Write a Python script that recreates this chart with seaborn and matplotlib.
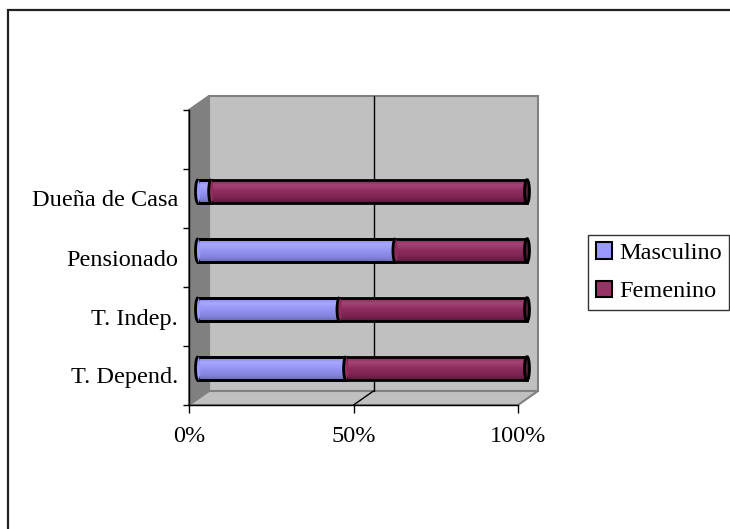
import numpy as np
import matplotlib
matplotlib.use("Agg")
import matplotlib.pyplot as plt
import matplotlib.transforms as mtrans
from matplotlib.patches import Polygon, Ellipse, Arc, Patch, Rectangle
from matplotlib.colors import to_rgb
import seaborn as sns

# Datos (porcentajes por categoria)
categorias = ["Dueña de Casa", "Pensionado", "T. Indep.", "T. Depend."]
masculino = [4, 60, 43, 45]
femenino = [96, 40, 57, 55]
ticks_x = [0, 50, 100]
ticks_x_labels = ["0%", "50%", "100%"]

col_masc = "#9999FF"
col_fem = "#993366"
col_tapa = "#4d1a33"

sns.set_theme(style="white")
plt.rcParams["font.family"] = ["Liberation Serif", "DejaVu Serif"]
plt.rcParams["text.color"] = "black"
plt.rcParams["xtick.labelcolor"] = "black"
plt.rcParams["ytick.labelcolor"] = "black"
fs = 17.5


def gradiente(stops, n=40):
    pos = [s[0] for s in stops]
    rgb = np.array([to_rgb(s[1]) for s in stops])
    y = np.linspace(0, 1, n)
    cols = np.stack([np.interp(y, pos, rgb[:, k]) for k in range(3)], axis=1)
    return cols[:, None, :]


grad_masc = gradiente([(0, "#8080D8"), (0.25, "#A8A8FF"), (0.5, "#9696F4"),
                       (0.8, "#8484DC"), (1, "#6A6AB8")])
grad_fem = gradiente([(0, "#802650"), (0.25, "#A44474"), (0.5, "#8E2C5E"),
                      (0.8, "#7A2450"), (1, "#5A1A3C")])

fig = plt.figure(figsize=(7.3, 5.29), dpi=100)
ax = fig.add_axes([189 / 730, 124 / 529, 329 / 730, 295 / 529])
ax.set_facecolor("none")

# barras apiladas: total (femenino) y encima masculino
total = [m + f for m, f in zip(masculino, femenino)]
sns.barplot(x=total, y=categorias, orient="h", color=col_fem, saturation=1,
            width=0.4, ax=ax)
n_fem = len(ax.patches)
sns.barplot(x=masculino, y=categorias, orient="h", color=col_masc, saturation=1,
            width=0.4, ax=ax)

# desplazamiento de profundidad para las barras (mitad del fondo)
off = mtrans.ScaledTranslation(9 / 100, 7 / 100, fig.dpi_scale_trans)
tr = ax.transData + off

ax.set_xlim(0, 100)
ax.set_ylim(3.5, -1.5)

barras = list(ax.patches)
for k, p in enumerate(barras):
    p.set_transform(tr)
    p.set_facecolor("none")
    p.set_edgecolor("black")
    p.set_linewidth(2)
    p.set_zorder(3)
    p.set_clip_on(False)
    g = grad_fem if k < n_fem else grad_masc
    x0, w, y0, h = p.get_x(), p.get_width(), p.get_y(), p.get_height()
    im = ax.imshow(g, extent=[x0, x0 + w, y0 + h, y0], aspect="auto",
                   transform=tr, zorder=2, interpolation="bilinear")
    im.set_clip_box(fig.bbox)
    im.set_clip_path(p)

ax.set_xlim(0, 100)
ax.set_ylim(3.5, -1.5)

# tapas de los cilindros
cw, ch = 1.5, 0.4
for i, (m, t) in enumerate(zip(masculino, total)):
    ax.add_patch(Ellipse((0, i), cw, ch, fc=col_masc, ec="none", transform=tr,
                         zorder=4, clip_on=False))
    ax.add_patch(Arc((0, i), cw, ch, theta1=90, theta2=270, ec="black", lw=2,
                     transform=tr, zorder=5, clip_on=False))
    ax.add_patch(Ellipse((m, i), cw, ch, fc="#8E2C5E", ec="none", transform=tr,
                         zorder=4, clip_on=False))
    ax.add_patch(Arc((m, i), cw, ch, theta1=90, theta2=270, ec="black", lw=2,
                     transform=tr, zorder=5, clip_on=False))
    ax.add_patch(Ellipse((t, i), cw, ch, fc=col_tapa, ec="black", lw=2,
                         transform=tr, zorder=4, clip_on=False))

# paredes 3D
dx, dy = 20 / 329, 14 / 295
kw = dict(transform=ax.transAxes, clip_on=False, zorder=0.5, lw=1.5)
ax.add_patch(Polygon([(dx, dy), (1 + dx, dy), (1 + dx, 1 + dy), (dx, 1 + dy)],
                     fc="#C0C0C0", ec="#808080", **kw))
ax.add_patch(Polygon([(0, 0), (dx, dy), (dx, 1 + dy), (0, 1)],
                     fc="#808080", ec="#808080", **kw))
ax.add_patch(Polygon([(0, 0), (1, 0), (1 + dx, dy), (dx, dy)],
                     fc="#C0C0C0", ec="#808080", **kw))
for t in ticks_x[1:-1]:
    fr = (t - ticks_x[0]) / (ticks_x[-1] - ticks_x[0])
    ax.plot([fr + dx, fr + dx], [dy, 1 + dy], color="black", lw=1,
            transform=ax.transAxes, clip_on=False, zorder=0.6)
    ax.plot([fr, fr + dx], [0, dy], color="black", lw=1,
            transform=ax.transAxes, clip_on=False, zorder=0.6)

# ejes
sns.despine(ax=ax)
for s in ["left", "bottom"]:
    ax.spines[s].set_color("black")
    ax.spines[s].set_linewidth(1)
ax.set_yticks(range(len(categorias)))
ax.set_yticklabels(categorias, fontsize=fs, color="black")
ax.set_yticks(np.arange(-1.5, len(categorias), 1), minor=True)
ax.tick_params(axis="y", which="major", length=0, pad=8)
ax.tick_params(axis="y", which="minor", left=True, length=4.5, width=1,
               color="black", direction="out")
ax.set_xticks(ticks_x)
ax.set_xticklabels(ticks_x_labels, fontsize=fs, color="black")
ax.tick_params(axis="x", bottom=True, length=5.5, width=1, color="black",
               direction="out", pad=9.5)
ax.set_xlabel("")
ax.set_ylabel("")

# leyenda
handles = [Patch(fc=col_masc, ec="black", lw=1.5, label="Masculino"),
           Patch(fc=col_fem, ec="black", lw=1.5, label="Femenino")]
leg = fig.legend(handles=handles, loc="upper left",
                 bbox_to_anchor=(588 / 730, 1 - 234.5 / 529), frameon=True,
                 fancybox=False, edgecolor="#333333", framealpha=1, fontsize=fs,
                 handlelength=0.65, handleheight=0.65, handletextpad=0.3,
                 borderpad=0.32, labelspacing=0.69, borderaxespad=0)
leg.get_frame().set_linewidth(1)
for txt in leg.get_texts():
    txt.set_color("black")

# marco exterior
fig.add_artist(Rectangle((7.5 / 730, -0.05), 1.0, (529 - 9.5) / 529 + 0.05,
                         transform=fig.transFigure, fill=False, ec="#222222",
                         lw=1.6, clip_on=False))

fig.savefig("out.png", dpi=100)
